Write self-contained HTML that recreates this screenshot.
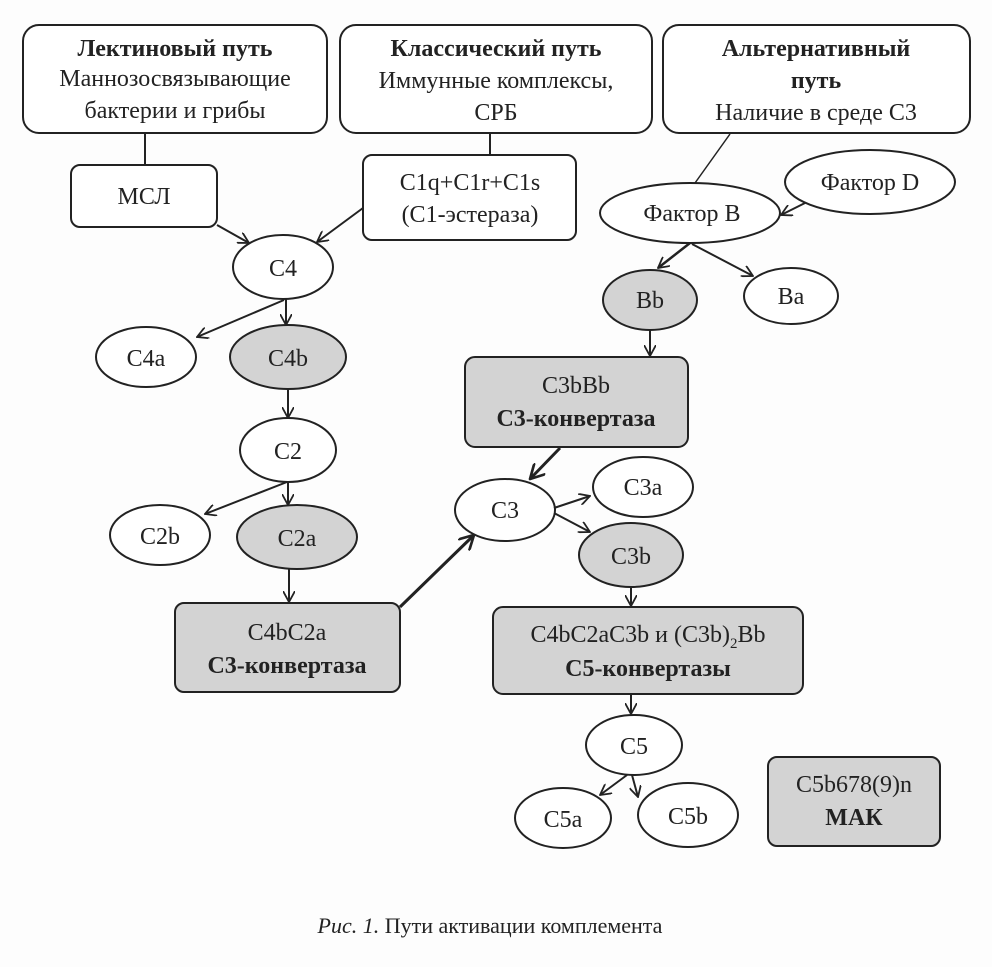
<!DOCTYPE html>
<html><head><meta charset="utf-8"><style>
html,body{margin:0;padding:0;background:#fdfdfd;}
svg text{font-family:"Liberation Serif","DejaVu Serif",serif;fill:#222;}
</style></head><body>
<svg width="992" height="962" viewBox="0 0 992 962" xmlns="http://www.w3.org/2000/svg">
<defs>
<marker id="a" viewBox="0 0 12 12" refX="11" refY="6" markerWidth="12" markerHeight="12" markerUnits="userSpaceOnUse" orient="auto">
<path d="M0,0 L11,6 L0,12" fill="none" stroke="#222" stroke-width="1.8"/>
</marker>
<marker id="b" viewBox="0 0 12 12" refX="11" refY="6" markerWidth="16" markerHeight="16" markerUnits="userSpaceOnUse" orient="auto">
<path d="M0,0 L11,6 L0,12" fill="none" stroke="#222" stroke-width="2"/>
</marker>
</defs>
<g stroke="#222" stroke-width="2" fill="#fff">
<rect x="23" y="25" width="304" height="108" rx="16"/>
<rect x="340" y="25" width="312" height="108" rx="16"/>
<rect x="663" y="25" width="307" height="108" rx="16"/>
<rect x="71" y="165" width="146" height="62" rx="9"/>
<rect x="363" y="155" width="213" height="85" rx="9"/>
<ellipse cx="283" cy="267" rx="50" ry="32"/>
<ellipse cx="870" cy="182" rx="85" ry="32"/>
<ellipse cx="690" cy="213" rx="90" ry="30"/>
<ellipse cx="650" cy="300" rx="47" ry="30" fill="#d3d3d3"/>
<ellipse cx="791" cy="296" rx="47" ry="28"/>
<ellipse cx="146" cy="357" rx="50" ry="30"/>
<ellipse cx="288" cy="357" rx="58" ry="32" fill="#d3d3d3"/>
<rect x="465" y="357" width="223" height="90" rx="10" fill="#d3d3d3"/>
<ellipse cx="288" cy="450" rx="48" ry="32"/>
<ellipse cx="160" cy="535" rx="50" ry="30"/>
<ellipse cx="297" cy="537" rx="60" ry="32" fill="#d3d3d3"/>
<ellipse cx="505" cy="510" rx="50" ry="31"/>
<ellipse cx="643" cy="487" rx="50" ry="30"/>
<ellipse cx="631" cy="555" rx="52" ry="32" fill="#d3d3d3"/>
<rect x="175" y="603" width="225" height="89" rx="9" fill="#d3d3d3"/>
<rect x="493" y="607" width="310" height="87" rx="10" fill="#d3d3d3"/>
<ellipse cx="634" cy="745" rx="48" ry="30"/>
<ellipse cx="563" cy="818" rx="48" ry="30"/>
<ellipse cx="688" cy="815" rx="50" ry="32"/>
<rect x="768" y="757" width="172" height="89" rx="9" fill="#d3d3d3"/>
</g>
<g stroke="#222" stroke-width="2" fill="none">
<line x1="145" y1="133" x2="145" y2="165"/>
<line x1="490" y1="133" x2="490" y2="155"/>
<line x1="730" y1="134" x2="695" y2="183" stroke-width="1.5"/>
<line x1="217" y1="225" x2="249" y2="243" marker-end="url(#a)"/>
<line x1="363" y1="208" x2="317" y2="242" marker-end="url(#a)"/>
<line x1="805" y1="203" x2="781" y2="215" marker-end="url(#a)"/>
<line x1="690" y1="243" x2="658" y2="268" marker-end="url(#a)" stroke-width="2.5"/>
<line x1="692" y1="244" x2="753" y2="276" marker-end="url(#a)"/>
<line x1="650" y1="330" x2="650" y2="356" marker-end="url(#a)"/>
<line x1="286" y1="299" x2="286" y2="325" marker-end="url(#a)"/>
<line x1="284" y1="300" x2="197" y2="337" marker-end="url(#a)"/>
<line x1="288" y1="389" x2="288" y2="418" marker-end="url(#a)"/>
<line x1="288" y1="482" x2="288" y2="505" marker-end="url(#a)"/>
<line x1="287" y1="482" x2="205" y2="514" marker-end="url(#a)"/>
<line x1="289" y1="569" x2="289" y2="602" marker-end="url(#a)"/>
<line x1="400" y1="607" x2="474" y2="535" marker-end="url(#b)" stroke-width="3"/>
<line x1="560" y1="448" x2="530" y2="479" marker-end="url(#b)" stroke-width="3"/>
<line x1="554" y1="508" x2="590" y2="496" marker-end="url(#a)"/>
<line x1="554" y1="513" x2="590" y2="532" marker-end="url(#a)"/>
<line x1="631" y1="587" x2="631" y2="606" marker-end="url(#a)"/>
<line x1="631" y1="694" x2="631" y2="714" marker-end="url(#a)"/>
<line x1="627" y1="775" x2="600" y2="795" marker-end="url(#a)"/>
<line x1="632" y1="775" x2="638" y2="797" marker-end="url(#a)"/>
</g>
<g font-size="24" text-anchor="middle">
<text x="175" y="56" font-weight="bold">Лектиновый путь</text>
<text x="175" y="86">Маннозосвязывающие</text>
<text x="175" y="118">бактерии и грибы</text>
<text x="496" y="56" font-weight="bold">Классический путь</text>
<text x="496" y="88">Иммунные комплексы,</text>
<text x="496" y="120">СРБ</text>
<text x="816" y="56" font-weight="bold">Альтернативный</text>
<text x="816" y="88" font-weight="bold">путь</text>
<text x="816" y="120">Наличие в среде С3</text>
<text x="144" y="204">МСЛ</text>
<text x="470" y="190">С1q+С1r+С1s</text>
<text x="470" y="222">(С1-эстераза)</text>
<text x="283" y="276">С4</text>
<text x="870" y="190">Фактор D</text>
<text x="692" y="221">Фактор В</text>
<text x="650" y="308">Bb</text>
<text x="791" y="304">Ba</text>
<text x="146" y="366">С4а</text>
<text x="288" y="366">С4b</text>
<text x="576" y="393">С3bBb</text>
<text x="576" y="426" font-weight="bold">С3-конвертаза</text>
<text x="288" y="459">С2</text>
<text x="160" y="544">С2b</text>
<text x="297" y="546">С2а</text>
<text x="505" y="518">С3</text>
<text x="643" y="495">С3а</text>
<text x="631" y="564">С3b</text>
<text x="287" y="640">С4bС2а</text>
<text x="287" y="673" font-weight="bold">С3-конвертаза</text>
<text x="648" y="642">С4bС2аС3b и (С3b)<tspan font-size="15" dy="6">2</tspan><tspan dy="-6">Bb</tspan></text>
<text x="648" y="676" font-weight="bold">С5-конвертазы</text>
<text x="634" y="754">С5</text>
<text x="563" y="827">С5а</text>
<text x="688" y="824">С5b</text>
<text x="854" y="792">С5b678(9)n</text>
<text x="854" y="825" font-weight="bold">МАК</text>
<text x="490" y="933" font-size="22"><tspan font-style="italic">Рис. 1.</tspan> Пути активации комплемента</text>
</g>
</svg>
</body></html>
